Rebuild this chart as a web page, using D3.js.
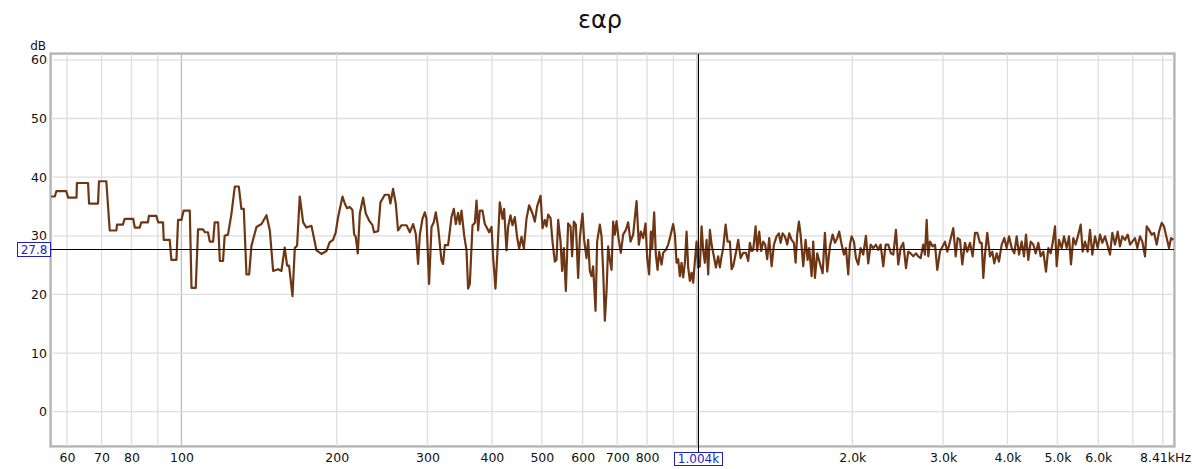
<!DOCTYPE html>
<html>
<head>
<meta charset="utf-8">
<script src="https://cdn.jsdelivr.net/npm/d3@7"></script>
<style>
  body { margin: 0; background: #fff; }
  svg { display: block; }
  text { font-family: "DejaVu Sans", "Noto Sans", sans-serif; }
</style>
</head>
<body>
<svg id="chart" width="1200" height="469"></svg>
<script>
const lowBand = [[55.9,36.7],[56.8,36.7],[57.2,37.6],[59.8,37.6],[60.3,36.5],[62.6,36.5],[62.7,39.0],[65.9,39.0],[66.2,35.5],[68.9,35.5],[69.2,39.3],[71.5,39.3],[72.6,30.9],[74.8,30.9],[75.0,31.9],[77.0,31.9],[77.6,32.9],[80.6,32.9],[81.2,31.4],[83.0,31.4],[83.6,32.3],[86.1,32.3],[86.5,33.4],[89.4,33.4],[90.1,32.3],[92.1,32.3],[92.4,29.3],[94.9,29.3],[95.6,25.9],[97.8,25.9],[98.5,32.7],[100,32.7],[101.0,34.3],[103.8,34.3],[104.6,21.1],[106.6,21.1],[107.7,31.1],[110.1,31.1],[111.0,30.6],[112.6,30.6],[113.5,29.0],[115.2,29.0],[116.0,32.3],[117.8,32.3],[118.7,25.7],[120.4,25.7],[121.3,30.0],[123.1,30.2],[125.0,33.7],[126.9,38.4],[129.2,38.4],[130.7,34.6],[132.1,34.6],[133.7,23.4],[135.3,23.4],[136.7,28.3],[139.8,31.5],[143.0,32.0],[146.2,33.5],[148.4,30.9],[150.6,24.0],[154.0,24.3],[156.3,24.0],[158.6,28.0],[160.3,24.9],[161.7,24.9],[164.2,19.7],[165.9,27.9],[167.6,28.3],[169.6,36.7],[172.2,32.3],[174.8,31.4],[178.7,31.7],[182.8,27.5],[186.9,26.9],[191.1,27.4]];

const band200 = [[193.9,28.9],[196.8,29.3],[199.2,30.6],[201.3,33.2],[205.3,36.7],[207.4,35.5],[209.5,34.7],[212.1,34.9],[214.6,34.4],[216.2,30.3],[217.8,29.8],[219.8,27.0],[221.8,33.8],[225.1,36.5],[227.8,33.8],[231.2,32.6],[234.7,31.8],[236.4,30.6],[240.7,30.8],[243.2,35.7],[248.0,37.0],[252.4,37.0],[254.3,35.5],[257.3,38.0],[260.4,35.5],[263.1,30.9],[267.2,31.8],[273.2,31.8],[277.3,30.6],[281.4,32.0],[284.8,30.3],[287.7,25.2],[289.9,30.1],[293.4,32.9],[296.5,34.0],[298.7,32.9],[302.2,21.8],[305.5,31.5],[308.6,32.3],[311.4,34.0],[314.6,31.5],[319.4,25.8],[321.7,25.2],[324.2,28.4],[329.0,28.4],[334.0,33.2],[337.5,34.6],[340.5,32.0],[344.0,33.9],[346.6,32.0],[349.3,34.3],[353.4,30.1],[357.2,27.5],[359.7,21.0],[362.5,21.8],[366.9,31.8],[370.7,32.2],[373.5,36.0],[376.2,30.9],[379.0,34.3],[383.6,34.3],[387.6,32.0],[390.5,31.5],[395.1,30.6],[399.4,31.5],[402.2,26.4],[406.5,21.0],[410.2,27.5],[414.4,35.7],[419.5,32.9],[422.5,34.6],[427.0,27.5],[430.1,31.5],[434.7,33.5],[438.6,31.8],[443.2,33.2],[447.7,29.8],[451.8,27.8],[456.6,29.8],[461.4,27.8],[466.9,32.9],[472.4,35.2]];

const band500 = [[479.6,33.8],[484.6,32.4],[489.6,35.0],[497.1,36.8],[501.6,31.3],[506.7,32.7],[510.6,31.6],[514.2,33.6],[519.8,33.0],[524.4,29.0],[529.9,25.6],[533.9,25.9],[537.8,32.7],[543.6,29.0],[547.4,24.0],[551.6,27.9],[556.6,20.6],[562.3,32.1],[568.3,31.6],[572.4,26.5],[576.8,32.4],[582.0,31.9],[588.0,22.8],[592.5,29.6],[595.1,31.3],[599.6,33.8],[604.0,29.3],[610.4,26.2],[614.9,29.3],[619.5,24.0],[624.2,23.1],[628.7,24.8],[635.5,17.2],[640.1,29.0],[647.8,31.9],[652.8,29.9],[657.5,24.0],[662.5,15.5],[667.5,20.6],[672.3,28.2],[677.4,25.9],[682.6,24.2],[687.5,32.4],[692.7,30.2],[698.0,32.5],[704.3,29.6],[711.5,27.1],[718.9,30.2],[727.7,31.0],[735.1,32.3],[743.0,29.0],[751.8,30.2],[763.2,35.9],[771.1,28.5],[778.0,30.7],[786.1,29.6],[794.5,32.1],[800.3,26.2],[807.4,23.4],[813.6,30.7],[818.3,27.9],[825.7,34.0],[831.9,26.8],[838.3,24.2],[844.3,27.3],[853.4,25.1],[859.6,27.1],[870.0,27.6],[879.0,28.5],[885.7,29.6]];

const band1k = [[898.8,32.0],[905.7,30.2],[912.6,25.4],[919.2,26.0],[926.2,23.1],[933.2,25.4],[939.9,22.9],[947.1,25.4],[954.3,30.7],[961.1,24.6],[968.4,22.3],[975.8,23.7],[982.9,22.0],[990.4,25.7],[997.9,29.0],[1005.0,24.6],[1012.7,24.8],[1020.4,31.6],[1027.7,27.6],[1035.5,25.4],[1043.4,29.3],[1051.0,23.4],[1059.0,31.0],[1067.1,28.5],[1078.0,26.5],[1087.8,24.6],[1099.0,26.5],[1107.4,24.6],[1115.8,26.5],[1123.8,27.9],[1136.0,31.9],[1146.1,29.0],[1158.0,29.0],[1166.8,24.3],[1175.1,24.8],[1189.4,27.1],[1201.7,29.3],[1214.7,26.2],[1228.8,27.1],[1243.8,27.1],[1256.7,25.7],[1266.1,28.8],[1275.8,27.4],[1285.0,27.6],[1298.8,31.6],[1308.1,27.4],[1319.9,30.7],[1331.7,27.4],[1343.6,29.0],[1355.7,28.5],[1367.8,26.0],[1380.2,29.6],[1395.1,24.8],[1409.4,28.5],[1426.5,29.9],[1441.3,30.4],[1452.3,28.8],[1465.3,30.4],[1480.5,29.9],[1495.7,28.5],[1509.2,30.4],[1525.4,29.3],[1541.2,28.8],[1553.0,25.4],[1564.1,30.2],[1576.0,32.4]];

const band2k = [[1588.0,30.2],[1606.5,24.8],[1623.8,29.3],[1638.5,25.9],[1650.2,27.9],[1667.9,23.1],[1680.0,29.0],[1692.8,22.8],[1710.2,27.0],[1731.0,25.3],[1752.1,23.6],[1770.0,30.5],[1788.4,23.9],[1810.1,28.2],[1832.0,30.2],[1851.0,28.8],[1870.1,29.6],[1886.9,30.7],[1907.2,28.5],[1926.9,26.8],[1944.2,27.9],[1964.3,23.4],[1979.3,28.5],[1994.4,29.9],[2015.0,29.0],[2033.0,26.2],[2054.1,25.1],[2076.2,27.9],[2100.4,26.8],[2126.0,30.0],[2147.8,25.3],[2171.1,28.5],[2196.4,27.9],[2223.0,28.5],[2246.0,27.6],[2270.2,28.5],[2296.7,24.8],[2321.6,28.5],[2348.7,28.5],[2377.1,27.0],[2401.7,26.8],[2430.7,31.0],[2455.9,25.1],[2482.5,27.9],[2511.5,28.8],[2542.0,24.5],[2568.1,27.3],[2595.8,27.0],[2626.3,26.5],[2658.0,27.0],[2685.5,26.5],[2714.4,26.2],[2746.1,28.5],[2767.0,26.8],[2788.1,32.7],[2808.3,26.5],[2829.7,29.0],[2863.9,28.2],[2893.6,28.5],[2923.5,24.2],[2958.8,27.3],[2994.8,28.2],[3025.8,29.0],[3056.8,27.3],[3084.4,28.5],[3117.6,30.2],[3140.1,31.3],[3173.9,26.5],[3202.2,29.6],[3235.4,29.3],[3268.9,25.1],[3308.4,28.8],[3342.7,27.3],[3383.0,28.8],[3424.2,26.5],[3459.6,30.5],[3495.2,30.5]];

const band4k = [[3537.8,28.8],[3564.8,28.8],[3590.2,22.8],[3617.6,26.8],[3655.0,30.5],[3699.2,26.5],[3737.5,27.3],[3770.9,25.3],[3811.8,27.0],[3850.9,25.6],[3897.8,28.5],[3943.2,29.6],[3985.7,27.9],[4027.0,29.9],[4075.9,27.9],[4123.5,27.0],[4167.8,29.9],[4211.0,26.8],[4261.8,29.0],[4305.9,26.5],[4344.4,30.2],[4389.4,25.9],[4436.6,29.0],[4488.4,28.5],[4537.1,27.0],[4590.0,28.8],[4639.4,26.5],[4693.5,27.3],[4750.6,23.9],[4799.8,27.9],[4851.4,27.0],[4894.8,28.8],[4945.5,31.6],[4983.2,24.8],[5034.8,29.3],[5095.6,27.9],[5148.3,29.9],[5210.5,27.9],[5264.4,29.9],[5311.5,25.1],[5366.5,29.6],[5424.2,28.5],[5487.5,30.2],[5547.1,31.9],[5596.7,27.3],[5654.6,29.0],[5722.9,27.3],[5782.2,31.0],[5842.0,26.8],[5912.6,29.9],[5984.5,27.9],[6046.5,30.2],[6108.5,28.8],[6182.9,29.9],[6246.9,28.5],[6322.3,26.8],[6387.8,30.5],[6465.5,28.5],[6543.6,30.7],[6611.3,28.2],[6679.7,29.9],[6760.4,29.3],[6842.7,30.2],[6913.5,28.5],[6984.5,29.0],[7069.5,29.6],[7142.7,27.9],[7229.0,29.9],[7303.8,29.0],[7392.7,26.5],[7449.1,31.6],[7525.5,31.0],[7617.1,30.2],[7696.0,30.5],[7788.9,28.5],[7869.5,30.7],[7965.2,32.2],[8046.9,31.6],[8144.8,29.6],[8229.1,27.9],[8302.7,29.6],[8388.7,29.3]];

const gridHz = [60, 70, 80, 90, 100, 200, 300, 400, 500, 600, 700, 800, 900, 1000, 2000, 3000, 4000, 5000, 6000, 7000, 8000];
const decadeHz = [100, 1000];
const tickHz = [60, 70, 80, 100, 200, 300, 400, 500, 600, 700, 800, 2000, 3000, 4000, 5000, 6000];
const tickLabels = ['60', '70', '80', '100', '200', '300', '400', '500', '600', '700', '800', '2.0k', '3.0k', '4.0k', '5.0k', '6.0k'];
const dbTicks = [0, 10, 20, 30, 40, 50, 60];
const freqRange = [55.85, 8414];
const dbRange = [-5.85, 61.0];
const endLabel = '8.41kHz';
const cursorHz = 1004;
const cursorDb = 27.8;
const chartTitle = 'εαρ';

const config = {
  width: 1200,
  height: 469,
  plot: {left: 51, right: 1174, top: 54, bottom: 446},
  traceColor: '#6e3613',
  gridColor: '#dedede',
  cursorColor: '#1f1fc0'
};

const data = [].concat(lowBand, band200, band500, band1k, band2k, band4k);
const p = config.plot;

const xScale = d3.scaleLog().domain(freqRange).range([p.left, p.right]);
const yScale = d3.scaleLinear().domain(dbRange).range([p.bottom, p.top]);

const svg = d3.select('#chart');

svg.append('defs').append('clipPath').attr('id', 'plotClip')
  .append('rect')
  .attr('x', p.left).attr('y', p.top)
  .attr('width', p.right - p.left).attr('height', p.bottom - p.top);

// frame with a soft shadow like the original app
svg.append('rect')
  .attr('x', p.left - 1).attr('y', p.top - 1)
  .attr('width', p.right - p.left + 2).attr('height', p.bottom - p.top + 2)
  .attr('fill', 'none').attr('stroke', '#d2d2d2').attr('stroke-width', 2);
svg.append('rect')
  .attr('x', p.left).attr('y', p.top)
  .attr('width', p.right - p.left).attr('height', p.bottom - p.top)
  .attr('fill', '#fff').attr('stroke', '#9f9f9f').attr('stroke-width', 1.2);

const grid = svg.append('g').attr('clip-path', 'url(#plotClip)');
grid.selectAll('.vgrid')
  .data(gridHz)
  .enter()
  .append('line')
  .attr('x1', d => xScale(d)).attr('x2', d => xScale(d))
  .attr('y1', p.top).attr('y2', p.bottom)
  .attr('stroke', d => decadeHz.includes(d) ? '#bdbdbd' : config.gridColor)
  .attr('stroke-width', 1.3);
grid.selectAll('.hgrid')
  .data(dbTicks)
  .enter()
  .append('line')
  .attr('x1', p.left).attr('x2', p.right)
  .attr('y1', d => yScale(d)).attr('y2', d => yScale(d))
  .attr('stroke', config.gridColor)
  .attr('stroke-width', 1.3);

// axes
const xAxis = d3.axisBottom(xScale)
  .tickValues(tickHz)
  .tickFormat((d, i) => tickLabels[i])
  .tickSize(0)
  .tickPadding(7);
const xAxisG = svg.append('g').attr('transform', `translate(0,${p.bottom})`).call(xAxis);
xAxisG.select('.domain').remove();
xAxisG.selectAll('text').attr('font-size', 12.5).attr('fill', '#111').attr('font-family', null);

const yAxis = d3.axisLeft(yScale).tickValues(dbTicks).tickSize(0).tickPadding(4);
const yAxisG = svg.append('g').attr('transform', `translate(${p.left},0)`).call(yAxis);
yAxisG.select('.domain').remove();
yAxisG.selectAll('text').attr('font-size', 12.5).attr('fill', '#111').attr('font-family', null);

svg.append('text')
  .attr('x', p.right + 17).attr('y', p.bottom + 16)
  .attr('text-anchor', 'end').attr('font-size', 12.5).attr('fill', '#111')
  .text(endLabel);

svg.append('text')
  .attr('x', 46).attr('y', 50)
  .attr('text-anchor', 'end').attr('font-size', 12).attr('fill', '#111')
  .text('dB');

svg.append('text')
  .attr('x', config.width / 2).attr('y', 28)
  .attr('text-anchor', 'middle').attr('font-size', 24).attr('fill', '#111')
  .text(chartTitle);

// trace
const line = d3.line()
  .x(d => xScale(d[0]))
  .y(d => yScale(d[1]));

svg.append('path')
  .datum(data)
  .attr('clip-path', 'url(#plotClip)')
  .attr('fill', 'none')
  .attr('stroke', config.traceColor)
  .attr('stroke-width', 2.2)
  .attr('stroke-linejoin', 'round')
  .attr('d', line);

// cursor
const cx = xScale(cursorHz);
const cy = yScale(cursorDb);
svg.append('line')
  .attr('x1', p.left).attr('x2', p.right)
  .attr('y1', Math.round(cy) + 0.5).attr('y2', Math.round(cy) + 0.5)
  .attr('stroke', '#000').attr('stroke-width', 1);
svg.append('line')
  .attr('x1', Math.round(cx) + 0.5).attr('x2', Math.round(cx) + 0.5)
  .attr('y1', p.top).attr('y2', p.bottom + 6)
  .attr('stroke', '#000').attr('stroke-width', 1);

function cursorTag(x, y, w, h, label) {
  svg.append('rect')
    .attr('x', x + 0.5).attr('y', y + 0.5).attr('width', w).attr('height', h)
    .attr('fill', '#fff').attr('stroke', config.cursorColor).attr('stroke-width', 1);
  svg.append('text')
    .attr('x', x + w / 2 + 0.5).attr('y', y + h / 2 + 0.5).attr('dy', '0.36em')
    .attr('text-anchor', 'middle').attr('font-size', 12).attr('fill', config.cursorColor)
    .text(label);
}
cursorTag(17, Math.round(cy) - 7, 33, 14, cursorDb.toFixed(1));
cursorTag(Math.round(cx) - 24, p.bottom + 6, 48, 13, (cursorHz / 1000).toFixed(3) + 'k');
</script>
</body>
</html>
